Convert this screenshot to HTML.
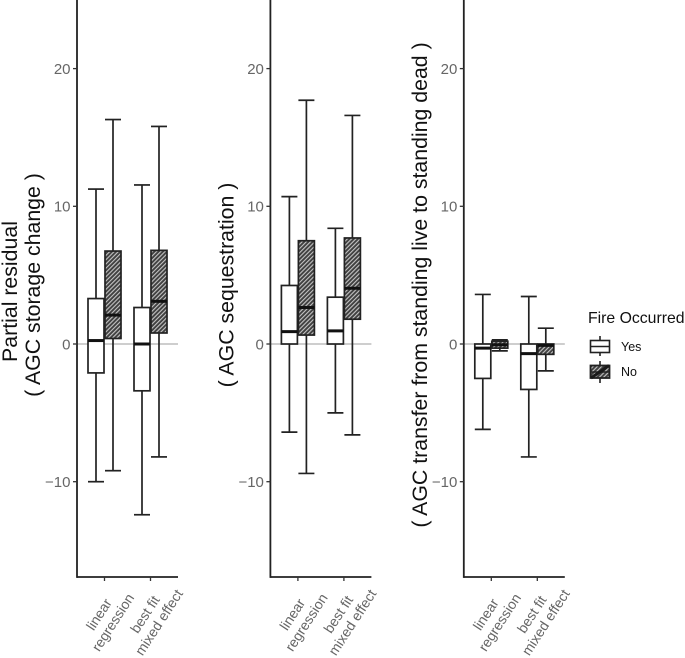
<!DOCTYPE html>
<html lang="en">
<head>
<meta charset="utf-8">
<title>Partial residuals of AGC by fire occurrence</title>
<style>
html,body{margin:0;padding:0;background:#fff;width:685px;height:658px;overflow:hidden}
svg{display:block;font-family:"Liberation Sans",Arial,sans-serif}
</style>
</head>
<body>
<svg id="chart" xmlns="http://www.w3.org/2000/svg" width="685" height="658" viewBox="0 0 685 658">
<defs>
<pattern id="hatch" patternUnits="userSpaceOnUse" width="3" height="3" patternTransform="rotate(45)">
<rect width="3" height="3" fill="#3f3f3f"></rect>
<rect x="0" y="0" width="1.1" height="3" fill="#c4c4c4"></rect>
</pattern>
</defs>
<g id="panels"></g>
<g id="legend">
<text x="588" y="323" font-size="15.8" fill="#111">Fire Occurred</text>
<g>
<line x1="600" x2="600" y1="336" y2="356" stroke="#222" stroke-width="1.6"></line>
<rect x="590.5" y="340.5" width="19" height="12" fill="#fff" stroke="#222" stroke-width="1.6"></rect>
<line x1="590.5" x2="609.5" y1="346.5" y2="346.5" stroke="#222" stroke-width="1.6"></line>
<text x="621" y="351" font-size="12.5" fill="#111">Yes</text>
</g>
<g>
<line x1="600" x2="600" y1="361" y2="383" stroke="#222" stroke-width="1.6"></line>
<rect x="590.5" y="365.5" width="19" height="12.5" fill="url(#hatch)" stroke="#222" stroke-width="1.8"></rect>
<line x1="590.5" x2="609.5" y1="372" y2="372" stroke="#222" stroke-width="1.6"></line>
<line x1="591" x2="609" y1="378" y2="365.5" stroke="#1a1a1a" stroke-width="3"></line>
<text x="621" y="376" font-size="12.5" fill="#111">No</text>
</g>
</g>
</svg>
<script>
// Chart data: order within each array is linear-Yes, linear-No, best-Yes, best-No
const panelKeys = ["storage-change", "sequestration", "transfer-to-dead"];
const categoryLines = [["linear", "regression"], ["best fit", "mixed effect"]];
const fireLevels = ["Yes", "No"];
const yTicks = [20, 10, 0, -10];

const storageLow = [-10, -9.2, -12.4, -8.2];
const storageQ1 = [-2.1, 0.4, -3.4, 0.8];
const storageMedian = [0.25, 2.1, 0, 3.1];
const storageQ3 = [3.3, 6.75, 2.65, 6.8];
const storageHigh = [11.25, 16.3, 11.55, 15.8];

const sequestrationLow = [-6.4, -9.4, -5, -6.6];
const sequestrationQ1 = [0, 0.65, 0, 1.8];
const sequestrationMedian = [0.9, 2.65, 0.95, 4.05];
const sequestrationQ3 = [4.25, 7.5, 3.4, 7.7];
const sequestrationHigh = [10.7, 17.7, 8.4, 16.6];

const transferLow = [-6.2, -0.5, -8.2, -1.95];
const transferQ1 = [-2.5, -0.3, -3.3, -0.75];
const transferMedian = [-0.3, -0.05, -0.7, -0.1];
const transferQ3 = [0, 0.2, 0, 0];
const transferHigh = [3.6, 0.3, 3.45, 1.15];

const panelStats = [
  [storageLow, storageQ1, storageMedian, storageQ3, storageHigh],
  [sequestrationLow, sequestrationQ1, sequestrationMedian, sequestrationQ3, sequestrationHigh],
  [transferLow, transferQ1, transferMedian, transferQ3, transferHigh]
];
const titleLines = [
  ["Partial residual", "( AGC storage change )"],
  ["( AGC sequestration )"],
  ["( AGC transfer from standing live to standing dead )"]
];

const NS = "http://www.w3.org/2000/svg";
const root = document.getElementById("panels");
const yScale = function (v) { return 344 - 13.77 * v; };
const panelX = function (p) { return 77 + p * 193.4; };
const catX = function (p, c) { return panelX(p) + 27.5 + c * 46; };
const dodgeX = function (p, c, s) { return catX(p, c) + (s === 0 ? -8.5 : 8.5); };
const BOX_W = 16;
const AXIS_LEN = 101;
const AXIS_BOTTOM = 577;

function make(parent, tag, attrs, text) {
  const el = document.createElementNS(NS, tag);
  for (const k in attrs) el.setAttribute(k, attrs[k]);
  if (text !== undefined) el.textContent = text;
  parent.appendChild(el);
  return el;
}

panelStats.forEach(function (stats, p) {
  const g = make(root, "g", {});
  
  
  const ax = panelX(p);

  const zero = make(g, "line", { x1: ax, x2: ax + AXIS_LEN, y1: yScale(0), y2: yScale(0), stroke: "#bdbdbd", "stroke-width": 1.5 });
  
  

  for (let i = 0; i < 4; i++) {
    const c = Math.floor(i / 2);
    const s = i % 2;
    const cx = dodgeX(p, c, s);
    const x0 = cx - BOX_W / 2;
    const x1 = cx + BOX_W / 2;
    const low = stats[0][i], q1 = stats[1][i], med = stats[2][i], q3 = stats[3][i], high = stats[4][i];
    const bg = make(g, "g", {});
    
    
    const w = make(bg, "line", { x1: cx, x2: cx, y1: yScale(low), y2: yScale(high), stroke: "#222", "stroke-width": 1.7 });
    
    
    const capLow = make(bg, "line", { x1: x0, x2: x1, y1: yScale(low), y2: yScale(low), stroke: "#222", "stroke-width": 1.7 });
    
    
    const capHigh = make(bg, "line", { x1: x0, x2: x1, y1: yScale(high), y2: yScale(high), stroke: "#222", "stroke-width": 1.7 });
    
    
    const box = make(bg, "rect", { x: x0, y: yScale(q3), width: BOX_W, height: yScale(q1) - yScale(q3), fill: s === 0 ? "#fff" : "url(#hatch)", stroke: "#222", "stroke-width": 1.7 });
    
    
    const m = make(bg, "line", { x1: x0, x2: x1, y1: yScale(med), y2: yScale(med), stroke: "#111", "stroke-width": 3 });
    
    
  }

  const yAxis = make(g, "line", { x1: ax, x2: ax, y1: 0, y2: AXIS_BOTTOM + 0.9, stroke: "#222", "stroke-width": 1.8 });
  
  
  const xAxis = make(g, "line", { x1: ax, x2: ax + AXIS_LEN, y1: AXIS_BOTTOM, y2: AXIS_BOTTOM, stroke: "#222", "stroke-width": 1.8 });
  
  

  yTicks.forEach(function (t) {
    const tk = make(g, "line", { x1: ax - 4, x2: ax, y1: yScale(t), y2: yScale(t), stroke: "#333", "stroke-width": 1.3 });
    
    
    const lb = make(g, "text", { x: ax - 6.5, y: yScale(t) + 5.3, "text-anchor": "end", "font-size": 15, fill: "#666" }, (t < 0 ? "\u2212" + Math.abs(t) : String(t)));
    
    
  });

  categoryLines.forEach(function (lines, c) {
    const tx = catX(p, c);
    const tk = make(g, "line", { x1: tx, x2: tx, y1: AXIS_BOTTOM, y2: AXIS_BOTTOM + 4, stroke: "#333", "stroke-width": 1.3 });
    
    
    lines.forEach(function (line, l) {
      const lx = tx + (l === 0 ? -1.5 : 12.5);
      const ly = l === 0 ? 617 : 625;
      const lb = make(g, "text", { x: lx, y: ly, "text-anchor": "middle", "font-size": 14, fill: "#666", transform: "rotate(-57 " + lx + " " + ly + ")" }, line);
      
      
    });
  });

  const lines = titleLines[p];
  lines.forEach(function (line, l) {
    const baseX = ax - 37 - (lines.length - 1 - l) * 23;
    const ty = p === 0 && l === 0 ? 291.5 : 285;
    const tt = make(g, "text", { x: baseX, y: ty, "text-anchor": "middle", "font-size": 21.3, fill: "#111", transform: "rotate(-90 " + baseX + " " + ty + ")" }, line);
    
    
  });
});
</script>
</body>
</html>
